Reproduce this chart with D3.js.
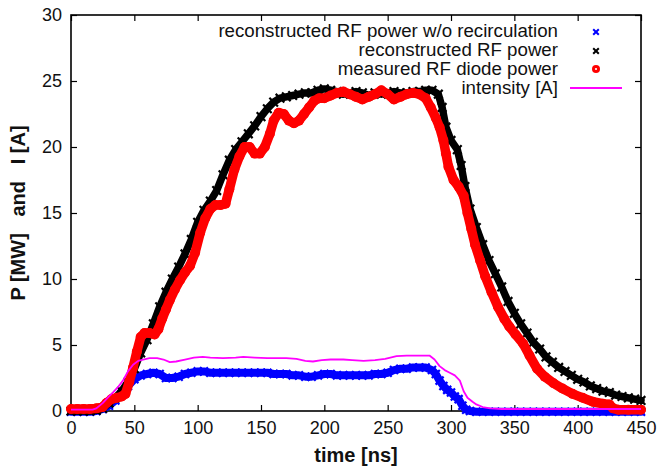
<!DOCTYPE html>
<html><head><meta charset="utf-8">
<script src="https://cdn.jsdelivr.net/npm/d3@7"></script>
<style>
html,body{margin:0;padding:0;background:#fff;}
svg{display:block;}
text{font-family:"Liberation Sans",Arial,Helvetica,sans-serif;}
</style></head>
<body>
<svg id="chart" width="658" height="470"></svg>
<script>
// ---- data ----
const xTicks = [0,50,100,150,200,250,300,350,400,450];
const yTicks = [0,5,10,15,20,25,30];
const seriesNames = ["reconstructed RF power w/o recirculation","reconstructed RF power","measured RF diode power","intensity [A]"];

const blueT = [0,5,10,15,20,25,30,35,40,45,50,55,60,65,70,75,80,85,90,95,100,105,110,115,120,125,130,135,140,145,150,155,160,165,170,175,180,185,190,195,200,205,210,215,220,225,230,235,240,245,250,255,260,265,270,275,280,285,288,291,294,297,300,303,306,309,312,315,320,330,340,350,360,370,380,390,400,410,420,430,440,450];
const blueV = [-0.05,-0.05,-0.05,-0.05,0,0.15,0.4,0.8,1.3,1.9,2.4,2.7,2.8,2.9,2.8,2.5,2.5,2.6,2.8,2.9,3.0,3.0,2.9,2.9,2.9,2.9,2.9,2.9,2.9,2.9,2.9,2.9,2.8,2.8,2.8,2.7,2.7,2.6,2.6,2.7,2.8,2.8,2.7,2.7,2.7,2.7,2.7,2.7,2.8,2.8,2.9,3.1,3.2,3.2,3.3,3.3,3.3,3.1,2.8,2.3,1.9,1.6,1.4,1.1,0.9,0.4,0.1,0,-0.05,-0.05,-0.05,-0.05,-0.05,-0.05,-0.05,-0.05,-0.05,-0.05,-0.05,-0.05,-0.05,-0.05];

const blackT = [0,5,10,15,20,25,30,35,40,45,50,55,60,65,70,75,80,85,90,95,100,105,110,115,120,125,130,135,140,145,150,155,160,165,170,175,180,185,190,195,200,205,210,215,220,225,230,235,240,245,250,255,260,265,270,275,280,285,290,293,296,300,305,308,311,315,320,325,330,335,340,345,350,355,360,365,370,375,380,385,390,395,400,405,410,415,420,425,430,435,440,445,450];
const blackV = [0,0,0,0,0.05,0.2,0.6,1.0,1.5,2.2,3.2,4.4,5.4,6.6,7.9,9.0,10.0,10.9,11.9,13.0,14.3,15.2,15.9,16.7,17.9,19.0,19.8,20.4,21.0,21.6,22.3,22.9,23.4,23.7,23.8,23.9,24.0,24.1,24.1,24.3,24.4,24.3,24.2,24.0,24.1,24.2,24.1,23.9,24.1,24.0,24.1,24.2,24.1,24.1,24.2,24.2,24.3,24.3,24.0,23.0,21.5,20.5,19.8,18.6,17.0,15.3,13.9,12.6,11.4,10.4,9.4,8.3,7.4,6.6,5.9,5.2,4.7,4.1,3.7,3.3,3.0,2.7,2.4,2.2,1.9,1.7,1.5,1.4,1.2,1.1,1.0,0.9,0.8];

const redT = [0,5,10,15,20,25,28,32,36,40,43,46,49,52,55,58,62,66,69,72,75,78,82,86,90,94,98,102,106,110,114,118,122,125,129,133,137,141,145,149,153,157,160,164,168,172,176,180,184,188,192,196,200,205,210,215,220,225,230,235,240,245,250,255,260,265,270,275,280,284,288,291,294,296,298,302,306,310,313,316,319,323,327,332,337,342,346,351,357,362,368,374,381,388,396,404,412,420,425,428,432,440,450];
const redV = [0.15,0.15,0.15,0.15,0.2,0.3,0.6,0.9,1.0,1.1,1.3,2.2,3.3,4.5,5.6,5.9,5.9,5.8,6.2,7.0,7.7,8.4,9.2,9.9,10.5,11.0,12.0,13.5,14.6,15.3,15.6,15.6,15.7,16.8,18.3,19.3,20.0,20.0,19.5,19.5,20.0,21.0,22.0,22.6,22.5,22.0,21.8,22.0,22.5,23.0,23.5,23.7,23.7,23.9,24.1,24.2,24.0,23.8,23.6,23.8,24.0,24.3,24.0,23.6,23.8,24.0,24.1,24.0,23.7,23.0,22.2,21.5,20.5,19.5,18.5,17.5,17.0,16.3,15.0,13.8,12.6,11.4,10.2,9.0,7.9,7.0,6.4,5.8,5.1,4.2,3.2,2.6,2.1,1.7,1.3,1.0,0.7,0.55,0.5,0.2,0.1,0.1,0.1];

const magT = [0,10,17,20,25,30,33,37,41,45,49,53,57,62,68,73,78,83,90,97,104,110,120,130,136,145,155,162,170,178,185,191,198,205,215,222,231,240,248,257,265,275,283,287,291,295,299,303,307,310,313,317,320,325,331,340,350,360,380,400,420,440,450];
const magV = [0.1,0.1,0.1,0.2,0.6,1.1,1.4,1.8,2.3,3.0,3.5,3.8,3.9,4.0,4.0,3.9,3.7,3.75,3.9,4.05,4.1,4.05,4.0,4.05,4.1,4.05,4.0,4.0,4.0,3.95,3.8,3.75,3.85,3.9,3.9,3.85,3.8,3.85,3.95,4.15,4.2,4.2,4.2,3.9,3.4,3.1,2.9,2.7,2.3,1.5,1.0,0.7,0.5,0.3,0.2,0.15,0.15,0.15,0.15,0.15,0.15,0.15,0.15];

// ---- chart ----
const svg = d3.select("#chart");
const L = 71, R = 641, T = 15, B = 411;
const x = d3.scaleLinear().domain([0,450]).range([L,R]);
const y = d3.scaleLinear().domain([0,30]).range([B,T]);

const zip = (ts, vs) => ts.map((t,i)=>({t, v: vs[i]}));
const line = d3.line().x(d=>x(d.t)).y(d=>y(d.v));

const tickLen = 6;
const gx = svg.append("g").attr("transform",`translate(0,${B})`)
  .call(d3.axisBottom(x).tickValues(xTicks).tickSize(-tickLen).tickPadding(10).tickFormat(d3.format("d")));
const gxt = svg.append("g").attr("transform",`translate(0,${T})`)
  .call(d3.axisTop(x).tickValues(xTicks).tickSize(-tickLen).tickFormat(""));
const gy = svg.append("g").attr("transform",`translate(${L},0)`)
  .call(d3.axisLeft(y).tickValues(yTicks).tickSize(-tickLen).tickPadding(9).tickFormat(d3.format("d")));
const gyr = svg.append("g").attr("transform",`translate(${R},0)`)
  .call(d3.axisRight(y).tickValues(yTicks).tickSize(-tickLen).tickFormat(""));
[gx,gxt,gy,gyr].forEach(g=>{
  g.select(".domain").remove();
  g.selectAll(".tick line").attr("stroke","#000").attr("stroke-width",1.2);
  g.selectAll(".tick text").attr("fill","#111").attr("font-size",18).attr("font-family","Liberation Sans, Arial, sans-serif");
});
svg.append("rect").attr("x",L).attr("y",T).attr("width",R-L).attr("height",B-T)
  .attr("fill","none").attr("stroke","#000").attr("stroke-width",1.6);

function drawCross(g, pts, color, s){
  g.selectAll("path.m").data(pts).enter().append("path")
    .attr("d", d=>{const cx=x(d.t), cy=y(d.v);
      return `M${cx-s},${cy-s}L${cx+s},${cy+s}M${cx-s},${cy+s}L${cx+s},${cy-s}`;})
    .attr("stroke",color).attr("stroke-width",2.2).attr("fill","none");
}

// blue series
const blue = zip(blueT, blueV);
const gb = svg.append("g");
gb.append("path").datum(blue).attr("d",line).attr("fill","none").attr("stroke","#0000ff")
  .attr("stroke-width",8).attr("stroke-linejoin","round").attr("stroke-linecap","round");
drawCross(gb, blue, "#0000ff", 4);

// black series
const black = zip(blackT, blackV);
const gk = svg.append("g");
gk.append("path").datum(black).attr("d",line).attr("fill","none").attr("stroke","#000")
  .attr("stroke-width",7.5).attr("stroke-linejoin","round").attr("stroke-linecap","round");
drawCross(gk, black, "#000", 4.3);

// red series
const red = zip(redT, redV);
const gr = svg.append("g");
gr.append("path").datum(red).attr("d",line).attr("fill","none").attr("stroke","#ff0000")
  .attr("stroke-width",9.5).attr("stroke-linejoin","round").attr("stroke-linecap","round");
gr.selectAll("circle").data(red).enter().append("circle")
  .attr("cx",d=>x(d.t)).attr("cy",d=>y(d.v)).attr("r",5).attr("fill","#ff0000");

// magenta line
const mag = zip(magT, magV);
svg.append("path").datum(mag).attr("d",line).attr("fill","none").attr("stroke","#ff00ff")
  .attr("stroke-width",1.8).attr("stroke-linejoin","round");

// legend
const legX = 558, legY = [37,56,75,94], legM = 596;
const lg = svg.append("g").attr("font-size",18.7).attr("fill","#111");
seriesNames.forEach((n,i)=>{
  lg.append("text").attr("x",legX).attr("y",legY[i]).attr("text-anchor","end").text(n);
});
const crossAt = (cx,cy,s,c)=>svg.append("path")
  .attr("d",`M${cx-s},${cy-s}L${cx+s},${cy+s}M${cx-s},${cy+s}L${cx+s},${cy-s}`)
  .attr("stroke",c).attr("stroke-width",2);
crossAt(legM, legY[0]-5, 2.8, "#0000ff");
crossAt(legM, legY[1]-5, 2.8, "#000");
svg.append("circle").attr("cx",legM).attr("cy",legY[2]-6).attr("r",4).attr("fill","#ff0000");
svg.append("circle").attr("cx",legM).attr("cy",legY[2]-6).attr("r",1.1).attr("fill","#fff");
svg.append("line").attr("x1",570).attr("x2",622).attr("y1",legY[3]-6).attr("y2",legY[3]-6)
  .attr("stroke","#ff00ff").attr("stroke-width",1.8);

// axis titles
svg.append("text").attr("x",(L+R)/2).attr("y",462).attr("text-anchor","middle")
  .attr("font-size",20).attr("font-weight","bold").attr("fill","#111").text("time [ns]");
svg.append("text").attr("transform",`translate(25,${(T+B)/2}) rotate(-90)`).attr("text-anchor","middle")
  .attr("font-size",20).attr("font-weight","bold").attr("fill","#111")
  .text("P [MW]\u00A0\u00A0\u00A0and\u00A0\u00A0\u00A0I [A]");
</script>
</body></html>
